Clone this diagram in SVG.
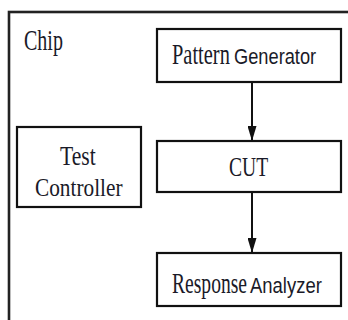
<svg xmlns="http://www.w3.org/2000/svg" width="348" height="320" viewBox="0 0 348 320">
  <style>
    .box { fill: #fff; stroke: #111; stroke-width: 2.2; }
    .serif { font-family: "Liberation Serif", "Times New Roman", serif; fill: #1a1a28; }
    .sans { font-family: "Liberation Sans", Arial, sans-serif; fill: #1a1a28; }
    .wire { stroke: #111; stroke-width: 2; fill: none; }
  </style>
  <defs>
    <marker id="arrow" markerWidth="15" markerHeight="9" refX="15" refY="4.5" orient="auto" markerUnits="userSpaceOnUse" viewBox="0 0 15 9">
      <path d="M0,0 L15,4.5 L0,9 Z" fill="#111"/>
    </marker>
  </defs>
  <rect width="348" height="320" fill="#fff"/>

  <!-- chip boundary (runs off the right and bottom edges) -->
  <g id="chip">
    <rect x="9" y="12" width="400" height="400" fill="none" stroke="#222" stroke-width="2.6"/>
    <text class="serif" font-size="29" transform="translate(24,50) scale(0.69,1)">Chip</text>
  </g>

  <g id="pattern-generator">
    <rect class="box" x="157" y="29" width="184" height="53"/>
    <text class="serif" font-size="29" transform="translate(172,64) scale(0.705,1)">Pattern</text>
    <text class="sans" font-size="22" transform="translate(234,64) scale(0.83,1)">Generator</text>
  </g>

  <g id="test-controller">
    <rect class="box" x="17" y="127" width="124" height="80"/>
    <text class="serif" font-size="27" transform="translate(60,165) scale(0.8,1)">Test</text>
    <text class="serif" font-size="26" transform="translate(35,196) scale(0.82,1)">Controller</text>
  </g>

  <g id="cut">
    <rect class="box" x="157" y="141" width="184" height="51"/>
    <text class="serif" font-size="28" transform="translate(229,176) scale(0.7,1)">CUT</text>
  </g>

  <g id="response-analyzer">
    <rect class="box" x="157" y="253" width="184" height="53"/>
    <text class="serif" font-size="29" transform="translate(172,293) scale(0.675,1)">Response</text>
    <text class="sans" font-size="22" transform="translate(250,293) scale(0.84,1)">Analyzer</text>
  </g>

  <g id="connectors">
    <line class="wire" x1="252" y1="83" x2="252" y2="141" marker-end="url(#arrow)"/>
    <line class="wire" x1="252" y1="193" x2="252" y2="253" marker-end="url(#arrow)"/>
  </g>
</svg>
